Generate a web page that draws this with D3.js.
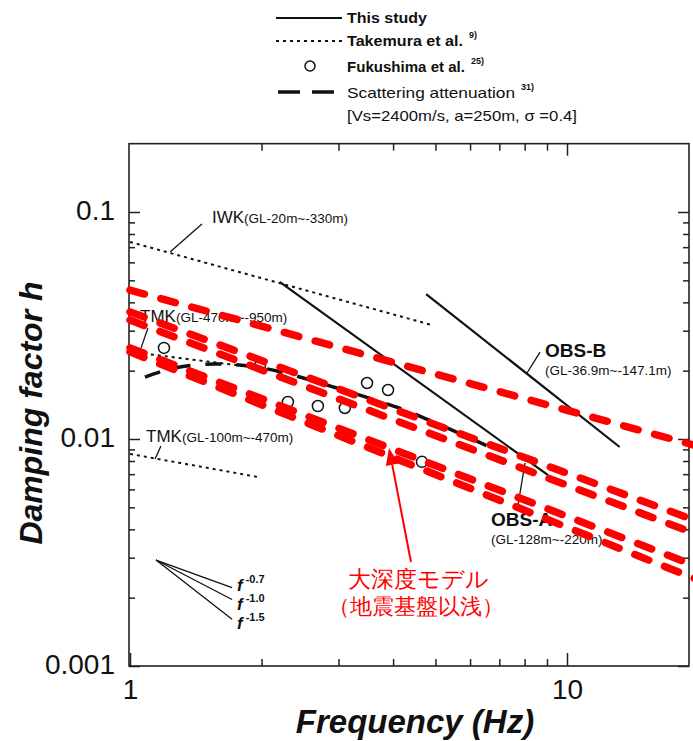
<!DOCTYPE html>
<html><head><meta charset="utf-8">
<script src="https://cdn.jsdelivr.net/npm/d3@7"></script>
<style>body{margin:0;background:#fff}svg{display:block}text{font-family:"Liberation Sans",Arial,sans-serif;fill:#111}</style>
</head><body><svg id="c" width="693" height="741"></svg>
<script>
// ---------------- data ----------------
const xTickLabels = [1, 10];
const yTickLabels = [0.001, 0.01, 0.1];
// red: 大深度モデル (f, h) end points
const redModel1 = [[1, 0.0453], [20, 0.00928]];
const redModel2 = [[1, 0.0363], [20, 0.00432]];
const redModel3 = [[1, 0.0334], [20, 0.00378]];
const redModel4 = [[1, 0.0252], [20, 0.00273]];
const redModel5 = [[1, 0.0242], [20, 0.00239]];
// This study
const obsA = [[2.2, 0.0492], [9.05, 0.00693]];
const obsB = [[4.76, 0.0435], [13.2, 0.00922]];
// Takemura et al.
const iwk = [[1, 0.0738], [4.9, 0.0318]];
const tmk470 = [[1, 0.0242], [1.96, 0.0206]];
const tmk100 = [[1, 0.0086], [1.96, 0.0068]];
// Fukushima et al.
const fukushimaF = [1.196, 1.983, 2.298, 2.691, 3.102, 3.487, 3.895, 4.657];
const fukushimaH = [0.0252, 0.0210, 0.01456, 0.01397, 0.01370, 0.01765, 0.01644, 0.00793];
// Scattering attenuation
const scatterF = [1.082, 1.268, 1.565, 1.932, 2.447, 3.025, 3.638, 4.372, 5.123, 5.997, 7.03];
const scatterH = [0.01875, 0.02056, 0.0214, 0.0208, 0.01875, 0.0166, 0.01486, 0.01315, 0.01153, 0.0101, 0.00877];
// slope guide f^-n
const slopeExp = ["-0.7", "-1.0", "-1.5"];
const slopeStart = [1.147, 0.00293];
const slopeEndF = 1.712;
const slopeEndH = [0.002214, 0.001963, 0.001607];
// leader lines (f,h)
const leaderIWK = [[1.461, 0.0886], [1.235, 0.0666]];
const leaderTMK470 = [[1.099, 0.0308], [1.060, 0.0252]];
const leaderTMK100 = [[1.177, 0.00931], [1.141, 0.00817]];
const leaderOBSB = [[8.675, 0.02416], [8.10, 0.01953]];
const leaderOBSA = [[7.725, 0.00512], [8.015, 0.00784]];
const arrowPts = [[4.395, 0.00287], [3.915, 0.00913]];

// ---------------- drawing ----------------
const svg = d3.select('#c');
const x = d3.scaleLog().domain([1, 10]).range([130, 567]);
const y = d3.scaleLog().domain([0.001, 0.1]).range([666, 212]);
const L = 129, R = 689, T = y(0.2), B = y(0.001);
const line = d3.line().x(d => x(d[0])).y(d => y(d[1]));

// frame
svg.append('rect').attr('x', L).attr('y', T).attr('width', R - L).attr('height', B - T)
  .attr('fill', 'none').attr('stroke', '#222').attr('stroke-width', 1.6);

const xMinor = [2,3,4,5,6,7,8,9];
const yMinor = [];
[0.001, 0.01, 0.1].forEach(d => { for (let k = 2; k <= 9; k++) if (d * k < 0.199) yMinor.push(d * k); });

function styleAxis(g){ g.select('.domain').remove(); g.selectAll('line').attr('stroke','#222').attr('stroke-width',1.5); }
// bottom
svg.append('g').attr('transform', `translate(0,${B})`)
  .call(d3.axisBottom(x).tickValues(xMinor).tickSizeInner(-7).tickFormat('')).call(styleAxis);
svg.append('g').attr('transform', `translate(0,${B})`)
  .call(d3.axisBottom(x).tickValues(xTickLabels).tickSizeInner(-13).tickPadding(13).tickFormat(d3.format('d')))
  .call(styleAxis).call(g => g.selectAll('text').attr('font-size', 28).attr('fill', '#111').attr('font-family','"Liberation Sans",Arial'));
// top
svg.append('g').attr('transform', `translate(0,${T})`)
  .call(d3.axisTop(x).tickValues(xMinor).tickSizeInner(-7).tickFormat('')).call(styleAxis);
svg.append('g').attr('transform', `translate(0,${T})`)
  .call(d3.axisTop(x).tickValues([10]).tickSizeInner(-12).tickFormat('')).call(styleAxis);
// left
svg.append('g').attr('transform', `translate(${L},0)`)
  .call(d3.axisLeft(y).tickValues(yMinor).tickSizeInner(-6).tickFormat('')).call(styleAxis);
svg.append('g').attr('transform', `translate(${L},0)`)
  .call(d3.axisLeft(y).tickValues(yTickLabels).tickSizeInner(-11).tickPadding(14).tickFormat(d => String(d)))
  .call(styleAxis).call(g => g.selectAll('text').attr('font-size', 28).attr('fill', '#111').attr('font-family','"Liberation Sans",Arial').attr('dy','0.25em'));
// right
svg.append('g').attr('transform', `translate(${R},0)`)
  .call(d3.axisRight(y).tickValues(yMinor).tickSizeInner(-6).tickFormat('')).call(styleAxis);
svg.append('g').attr('transform', `translate(${R},0)`)
  .call(d3.axisRight(y).tickValues(yTickLabels).tickSizeInner(-11).tickFormat('')).call(styleAxis);

// axis titles
svg.append('text').attr('x', 415).attr('y', 733).attr('text-anchor', 'middle')
  .attr('font-size', 33).attr('font-weight', 'bold').attr('font-style', 'italic').text('Frequency (Hz)');
svg.append('text').attr('transform', 'translate(42,413) rotate(-90)').attr('text-anchor', 'middle')
  .attr('font-size', 32).attr('font-weight', 'bold').attr('font-style', 'italic').text('Damping factor h');

// Takemura dotted
[iwk, tmk470, tmk100].forEach(d => svg.append('path').attr('d', line(d)).attr('fill', 'none')
  .attr('stroke', '#111').attr('stroke-width', 2).attr('stroke-dasharray', '3,4'));
// This study solid
[obsA, obsB].forEach(d => svg.append('path').attr('d', line(d)).attr('fill', 'none')
  .attr('stroke', '#111').attr('stroke-width', 2.2));
// scattering attenuation
const scat = scatterF.map((f, i) => [f, scatterH[i]]);
svg.append('path').attr('d', d3.line().x(d => x(d[0])).y(d => y(d[1])).curve(d3.curveMonotoneX)(scat))
  .attr('fill', 'none').attr('stroke', '#111').attr('stroke-width', 3.5).attr('stroke-dasharray', '16,15');
// Fukushima circles
svg.selectAll('circle.fk').data(fukushimaF.map((f, i) => [f, fukushimaH[i]])).join('circle')
  .attr('cx', d => x(d[0])).attr('cy', d => y(d[1])).attr('r', 5.5)
  .attr('fill', 'none').attr('stroke', '#111').attr('stroke-width', 1.5);

// leaders
[leaderIWK, leaderTMK470, leaderTMK100, leaderOBSB, leaderOBSA].forEach(d => svg.append('path')
  .attr('d', line(d)).attr('stroke', '#111').attr('stroke-width', 1.3).attr('fill', 'none'));

// labels
function lab(px, py, big, small, bigSize, smallSize, bold){
  const t = svg.append('text').attr('x', px).attr('y', py);
  t.append('tspan').attr('font-size', bigSize).attr('font-weight', bold ? 'bold' : 'normal').text(big);
  if (small) t.append('tspan').attr('font-size', smallSize).text(small);
}
lab(212, 223, 'IWK', '(GL-20m~-330m)', 17, 13.5);
lab(140, 322, 'TMK', '(GL-470m~-950m)', 17, 13.5);
lab(146, 442, 'TMK', '(GL-100m~-470m)', 17, 13.5);
lab(545, 357, 'OBS-B', null, 19, 0, true);
lab(545, 375, '(GL-36.9m~-147.1m)', null, 13.5);
lab(491, 526, 'OBS-A', null, 19, 0, true);
lab(491, 544, '(GL-128m~-220m)', null, 13.5);

// slope guide
slopeEndH.forEach(h => svg.append('path').attr('d', line([slopeStart, [slopeEndF, h]]))
  .attr('stroke', '#111').attr('stroke-width', 1.3));
slopeExp.forEach((s, i) => {
  const t = svg.append('text').attr('x', 237).attr('y', 591 + i * 19);
  t.append('tspan').attr('font-size', 17).attr('font-weight', 'bold').attr('font-style', 'italic').text('f');
  t.append('tspan').attr('font-size', 11).attr('font-weight', 'bold').attr('dy', -8).attr('dx', 3).text(s);
});

// red model lines
[redModel1, redModel2, redModel3, redModel4, redModel5].forEach(d => svg.append('path').attr('d', line(d))
  .attr('fill', 'none').attr('stroke', '#ff0000').attr('stroke-width', 7.5)
  .attr('stroke-dasharray', '15,17').attr('stroke-linecap', 'round'));

// red arrow + text
const a0 = [x(arrowPts[0][0]), y(arrowPts[0][1])], a1 = [x(arrowPts[1][0]), y(arrowPts[1][1])];
const ang = Math.atan2(a1[1] - a0[1], a1[0] - a0[0]);
const hl = 17, hw = 6.5;
const base = [a1[0] - hl * Math.cos(ang), a1[1] - hl * Math.sin(ang)];
svg.append('line').attr('x1', a0[0]).attr('y1', a0[1]).attr('x2', base[0]).attr('y2', base[1])
  .attr('stroke', '#ff0000').attr('stroke-width', 2);
svg.append('path').attr('d', `M${a1[0]},${a1[1]}L${base[0] + hw * Math.sin(ang)},${base[1] - hw * Math.cos(ang)}L${base[0] - hw * Math.sin(ang)},${base[1] + hw * Math.cos(ang)}Z`)
  .attr('fill', '#ff0000');
svg.append('text').attr('x', 418).attr('y', 587).attr('text-anchor', 'middle').attr('font-size', 23)
  .style('fill', '#ff0000').attr('font-family', '"Noto Sans CJK JP",sans-serif').text('大深度モデル');
svg.append('text').attr('x', 416).attr('y', 614).attr('text-anchor', 'middle').attr('font-size', 22)
  .style('fill', '#ff0000').attr('font-family', '"Noto Sans CJK JP",sans-serif').text('（地震基盤以浅）');

// legend
const lg = svg.append('g');
const rowsY = [23, 46, 72, 98];
lg.append('line').attr('x1', 276).attr('x2', 342).attr('y1', rowsY[0] - 5).attr('y2', rowsY[0] - 5).attr('stroke', '#111').attr('stroke-width', 2.2);
lg.append('line').attr('x1', 276).attr('x2', 342).attr('y1', rowsY[1] - 5).attr('y2', rowsY[1] - 5).attr('stroke', '#111').attr('stroke-width', 2).attr('stroke-dasharray', '3,4');
lg.append('circle').attr('cx', 310).attr('cy', rowsY[2] - 6).attr('r', 5).attr('fill', 'none').attr('stroke', '#111').attr('stroke-width', 1.5);
lg.append('line').attr('x1', 278).attr('x2', 340).attr('y1', rowsY[3] - 6).attr('y2', rowsY[3] - 6).attr('stroke', '#111').attr('stroke-width', 3.5).attr('stroke-dasharray', '22,12');
function legText(yy, txt, sup, w, bold){
  const t = lg.append('text').attr('x', 347).attr('y', yy).attr('font-size', 15).attr('font-weight', bold ? 'bold' : 'normal');
  t.append('tspan').text(txt).attr('textLength', w).attr('lengthAdjust', 'spacingAndGlyphs');
  if (sup) t.append('tspan').attr('dx', 6).attr('dy', -8).attr('font-size', 9).attr('font-weight', 'bold').text(sup);
}
legText(rowsY[0], 'This study', null, 80, true);
legText(rowsY[1], 'Takemura et al.', '9)', 116, true);
legText(rowsY[2], 'Fukushima et al.', '25)', 118, true);
legText(rowsY[3], 'Scattering attenuation', '31)', 168, false);
lg.append('text').attr('x', 347).attr('y', 121).attr('font-size', 15)
  .append('tspan').attr('textLength', 230).attr('lengthAdjust', 'spacingAndGlyphs').text('[Vs=2400m/s, a=250m, σ =0.4]');
</script></body></html>
